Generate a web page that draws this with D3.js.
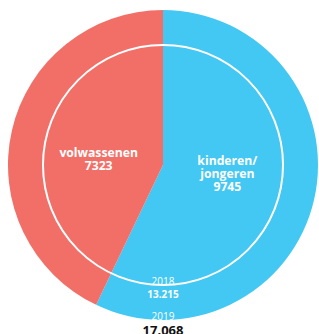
<!DOCTYPE html>
<html><head><meta charset="utf-8">
<script src="https://cdn.jsdelivr.net/npm/d3@7"></script>
<style>html,body{margin:0;padding:0;background:#fff;overflow:hidden}svg{display:block}</style>
</head><body>
<svg id="c" width="319" height="334"></svg>
<script>
const categories = ["kinderen/\njongeren", "volwassenen"];
const values2019 = [9745, 7323];
const total2019 = 17068, total2018 = 13215;
const yearLabels = ["2018", "2019"];
const totalLabels = ["13.215", "17.068"];
const colors = ["#43C7F3", "#F26F68"];

const svg = d3.select("#c");
const cx = 163, cy = 165;
const rScale = d3.scaleLinear().domain([0, total2019]).range([0, 155]);
const R = rScale(total2019);
const g = svg.append("g").attr("transform", `translate(${cx},${cy})`);
const pie = d3.pie().sort(null).value(d => d)(values2019);
const arc = d3.arc().innerRadius(0).outerRadius(R);
g.selectAll("path.s").data(pie).join("path").attr("class","s")
  .attr("d", arc).attr("fill", (d,i) => colors[i]);

g.append("circle").attr("r", rScale(total2018)).attr("fill","none")
  .attr("stroke","#fff").attr("stroke-width",2);

const font = "'Open Sans', sans-serif";
const lab = d3.arc().innerRadius(0).outerRadius(132);
pie.forEach((d,i) => {
  const [x,y0] = lab.centroid(d);
  const y = y0 * 0.5 + 1;
  const lines = categories[i].split("\n").concat([String(values2019[i])]);
  const lh = 13.2;
  const t = g.append("text").attr("text-anchor","middle").attr("fill","#fff")
    .attr("font-family", font).attr("font-weight","bold").attr("font-size",12.2);
  lines.forEach((l,j) => {
    t.append("tspan").attr("x", x).attr("y", y + (j - (lines.length-1)/2)*lh + 4.5).text(l);
  });
});

const tf = svg.append("g").attr("font-family", font).attr("text-anchor","middle");
tf.append("text").attr("x",cx).attr("y",285).attr("fill","#fff").attr("font-size",10).text(yearLabels[0]);
tf.append("text").attr("x",cx).attr("y",297.5).attr("fill","#fff").attr("font-size",10).attr("font-weight","bold").text(totalLabels[0]);
tf.append("text").attr("x",cx).attr("y",320).attr("fill","#fff").attr("font-size",10).text(yearLabels[1]);
tf.append("text").attr("x",cx).attr("y",335).attr("fill","#111").attr("font-size",13).attr("font-weight","bold").text(totalLabels[1]);
</script>
</body></html>
